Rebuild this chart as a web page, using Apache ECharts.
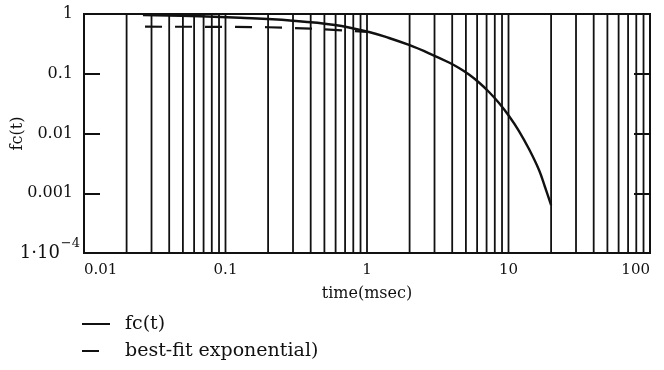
<!DOCTYPE html>
<html>
<head>
<meta charset="utf-8">
<script src="https://cdn.jsdelivr.net/npm/echarts@6/dist/echarts.min.js"></script>
<style>
  html, body { margin: 0; padding: 0; background: #fff; }
  #chart { width: 664px; height: 370px; }
</style>
</head>
<body>
<div id="chart"></div>
<script>
// time axis (msec) and fc(t) correlation values
const fcTimes  = [0.0261, 0.066, 0.1267, 0.2856, 0.594, 1.033, 1.431, 1.981, 2.743, 3.797, 4.469, 5.258, 6.187, 7.281, 8.568, 10.08, 11.86, 13.96, 16.43, 18.11, 20];
const fcValues = [0.962, 0.915, 0.864, 0.778, 0.655, 0.50, 0.3967, 0.3029, 0.2199, 0.1543, 0.1248, 0.0971, 0.0714, 0.0495, 0.0324, 0.01963, 0.01101, 0.0055, 0.00245, 0.001272, 0.000636];

// best-fit exponential
const fitTimes  = [0.027, 0.1, 0.2, 0.4, 0.7, 1.0];
const fitValues = [0.613, 0.61, 0.60, 0.57, 0.53, 0.50];

// tick labels
const xTickValues = [0.01, 0.1, 1, 10, 100];
const xTickLabels = ['0.01', '0.1', '1', '10', '100'];
const yTickValues = [1e-4, 0.001, 0.01, 0.1, 1];
const yTickLabels = ['{b|1·10}{sup|−4}', '{n|0.001}', '{n|0.01}', '{n|0.1}', '{n|1}'];

// vertical log grid lines at 2..9 × each decade and at the inner decades
const gridTimes = [
  0.02, 0.03, 0.04, 0.05, 0.06, 0.07, 0.08, 0.09, 0.1,
  0.2, 0.3, 0.4, 0.5, 0.6, 0.7, 0.8, 0.9, 1,
  2, 3, 4, 5, 6, 7, 8, 9, 10,
  20, 30, 40, 50, 60, 70, 80, 90
];

const Y_MIN = 1e-4, Y_MAX = 1;

function pickLabel(values, labels, v) {
  let best = 0, bestD = Infinity;
  values.forEach((t, i) => {
    const d = Math.abs(Math.log10(t) - Math.log10(v));
    if (d < bestD) { bestD = d; best = i; }
  });
  return bestD < 0.01 ? labels[best] : '';
}

const FONT = 'DejaVu Serif';
const INK = '#111';

const chart = echarts.init(document.getElementById('chart'), null, { renderer: 'canvas' });

chart.setOption({
  animation: false,
  backgroundColor: '#fff',
  grid: {
    left: 84, right: 14, top: 14, bottom: 117,
    containLabel: false, outerBoundsMode: 'none',
    show: true, borderColor: INK, borderWidth: 2, backgroundColor: 'transparent'
  },
  legend: {
    orient: 'vertical',
    left: 82, top: 314,
    padding: 0,
    itemWidth: 28, itemHeight: 2, itemGap: 7,
    selectedMode: false,
    textStyle: { fontFamily: FONT, fontSize: 19, color: INK, lineHeight: 20, padding: [0, 0, 0, 10] },
    data: [
      { name: 'fc(t)', icon: 'path://M0,0H28V2H0Z' },
      { name: 'best-fit exponential)', icon: 'path://M0,0H17V2H0ZM27,0H28V0H27Z' }
    ]
  },
  xAxis: {
    type: 'log', logBase: 10, min: 0.01, max: 100,
    name: 'time(msec)', nameLocation: 'middle', nameGap: 33, nameMoveOverlap: false,
    nameTextStyle: { fontFamily: FONT, fontSize: 16, color: INK },
    axisLine: { show: true, lineStyle: { color: INK, width: 2 } },
    axisTick: { show: false },
    splitLine: { show: false },
    axisLabel: {
      fontFamily: FONT, fontSize: 15, color: INK, margin: 10,
      alignMinLabel: 'left', alignMaxLabel: 'right',
      formatter: v => pickLabel(xTickValues, xTickLabels, v)
    }
  },
  yAxis: [{
    type: 'log', logBase: 10, min: Y_MIN, max: Y_MAX, interval: 1,
    name: 'fc(t)', nameLocation: 'middle', nameGap: 58, nameRotate: 90, nameMoveOverlap: false,
    nameTextStyle: { fontFamily: FONT, fontSize: 16, color: INK },
    axisLine: { show: true, lineStyle: { color: INK, width: 2 } },
    axisTick: { show: true, inside: true, length: 16, lineStyle: { color: INK, width: 2 } },
    splitLine: { show: false },
    axisLabel: {
      color: INK, margin: 4,
      formatter: v => pickLabel(yTickValues, yTickLabels, v),
      rich: {
        n: { fontFamily: FONT, fontSize: 16, color: INK, padding: [0, 7, 0, 0] },
        b: { fontFamily: FONT, fontSize: 18, color: INK },
        sup: { fontFamily: FONT, fontSize: 13, color: INK, padding: [0, 0, 18, 1] }
      }
    }
  }, {
    type: 'log', logBase: 10, min: Y_MIN, max: Y_MAX, interval: 1,
    position: 'right',
    axisLine: { show: true, lineStyle: { color: INK, width: 2 } },
    axisTick: { show: true, inside: true, length: 16, lineStyle: { color: INK, width: 2 } },
    axisLabel: { show: false },
    splitLine: { show: false }
  }],
  series: [{
    // full-height vertical rules at each grid time
    name: 'rules',
    type: 'custom',
    silent: true,
    z: 1,
    encode: { x: 0 },
    data: gridTimes.map(t => [t]),
    renderItem: (params, api) => {
      const t = api.value(0);
      const top = api.coord([t, Y_MAX]);
      const bot = api.coord([t, Y_MIN]);
      return {
        type: 'line',
        shape: { x1: top[0], y1: top[1], x2: bot[0], y2: bot[1] },
        style: { stroke: INK, lineWidth: 1.8 }
      };
    }
  }, {
    name: 'fc(t)',
    type: 'line',
    showSymbol: false, symbol: 'none',
    smooth: 0.4,
    z: 3,
    lineStyle: { color: INK, width: 2.4 },
    itemStyle: { color: INK },
    data: fcTimes.map((t, i) => [t, fcValues[i]])
  }, {
    name: 'best-fit exponential)',
    type: 'line',
    showSymbol: false, symbol: 'none',
    z: 3,
    lineStyle: { color: INK, width: 2.2, type: [17, 13] },
    itemStyle: { color: INK },
    data: fitTimes.map((t, i) => [t, fitValues[i]])
  }]
});
</script>
</body>
</html>
